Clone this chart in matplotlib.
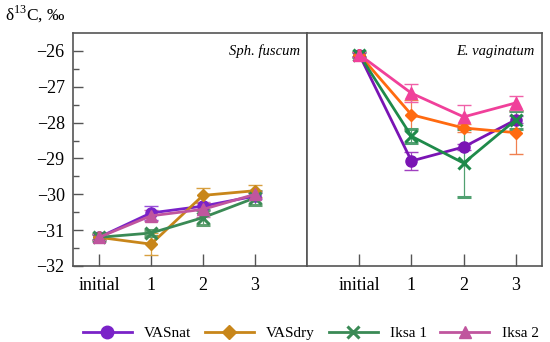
import matplotlib
matplotlib.use("Agg")
import matplotlib.pyplot as plt
from matplotlib.lines import Line2D
import numpy as np

plt.rcParams['font.family'] = ['Liberation Serif', 'DejaVu Serif']
plt.rcParams['mathtext.fontset'] = 'custom'
plt.rcParams['mathtext.rm'] = 'Liberation Serif'

categories = ['initial', '1', '2', '3']
series = ['VASnat', 'VASdry', 'Iksa 1', 'Iksa 2']

# Sph. fuscum
sph_vals = {
    'VASnat': [-31.2, -30.52, -30.33, -30.05],
    'VASdry': [-31.2, -31.39, -30.03, -29.9],
    'Iksa 1': [-31.2, -31.08, -30.65, -30.1],
    'Iksa 2': [-31.2, -30.6, -30.42, -30.0],
}
sph_err = {
    'VASnat': [0.08, 0.2, 0.1, 0.08],
    'VASdry': [0.08, 0.3, 0.2, 0.17],
    'Iksa 1': [0.08, 0.08, 0.22, 0.2],
    'Iksa 2': [0.08, 0.15, 0.2, 0.1],
}
# E. vaginatum
eva_vals = {
    'VASnat': [-26.1, -29.07, -28.68, -27.92],
    'VASdry': [-26.1, -27.78, -28.15, -28.28],
    'Iksa 1': [-26.1, -28.38, -29.13, -27.92],
    'Iksa 2': [-26.1, -27.18, -27.84, -27.45],
}
eva_err = {
    'VASnat': [0.08, 0.25, 0.08, 0.1],
    'VASdry': [0.08, 0.4, 0.1, 0.6],
    'Iksa 1': [0.08, 0.2, 0.95, 0.25],
    'Iksa 2': [0.08, 0.25, 0.32, 0.2],
}

markers = {'VASnat': 'o', 'VASdry': 'D', 'Iksa 1': 'x', 'Iksa 2': '^'}
msizes = {'VASnat': 8, 'VASdry': 6, 'Iksa 1': 8, 'Iksa 2': 8}
colors_left = {'VASnat': '#7a22c8', 'VASdry': '#c8861a', 'Iksa 1': '#3a8a55', 'Iksa 2': '#c0559e'}
err_colors_left = {'VASnat': '#9a50d8', 'VASdry': '#d8a040', 'Iksa 1': '#60a070', 'Iksa 2': '#d070b0'}
colors_right = {'VASnat': '#7a14b4', 'VASdry': '#ff6a10', 'Iksa 1': '#1f8a4a', 'Iksa 2': '#f0409a'}
err_colors_right = {'VASnat': '#a040c0', 'VASdry': '#f08050', 'Iksa 1': '#50a070', 'Iksa 2': '#f060a8'}

fig = plt.figure(figsize=(5.5, 3.42), dpi=100)
axL = fig.add_axes([73/550, 1-266/342, 234/550, 233/342])
axR = fig.add_axes([307/550, 1-266/342, 235/550, 233/342])

x = np.arange(len(categories))
frame_col = '#555555'

def draw(ax, vals, errs, cols, ecols):
    for s in series:
        ax.errorbar(x, vals[s], yerr=errs[s], color=cols[s], ecolor=ecols[s],
                    elinewidth=0.9, capsize=5, capthick=0.9, lw=2,
                    marker=markers[s], ms=msizes[s], mew=2.2 if s == 'Iksa 1' else 1,
                    zorder=3)
    ax.set_xticks(x)
    ax.set_xticklabels(categories, fontsize=13)
    ax.set_ylim(-32, -25.5)
    for sp in ax.spines.values():
        sp.set_color(frame_col)
        sp.set_linewidth(1.2)
    ax.tick_params(axis='x', direction='in', length=9, width=1, color=frame_col, pad=8)

draw(axL, sph_vals, sph_err, colors_left, err_colors_left)
draw(axR, eva_vals, eva_err, colors_right, err_colors_right)

axL.set_xlim(-0.5, 4.0)
axR.set_xlim(-1.0, 3.5)
axL.set_yticks([-32, -31, -30, -29, -28, -27, -26])
axL.set_yticklabels(['\u221232', '\u221231', '\u221230', '\u221229', '\u221228', '\u221227', '\u221226'], fontsize=13)
axL.set_yticks(np.arange(-31.5, -25.5, 1.0), minor=True)
axL.tick_params(axis='y', which='major', direction='in', length=7, width=1, color=frame_col, pad=6)
axL.tick_params(axis='y', which='minor', direction='in', length=4, width=1, color=frame_col)
axR.set_yticks([])

axL.text(0.97, 0.95, 'Sph. fuscum', transform=axL.transAxes, ha='right', va='top',
         fontsize=10.5, style='italic')
axR.text(0.97, 0.95, 'E. vaginatum', transform=axR.transAxes, ha='right', va='top',
         fontsize=10.5, style='italic')

fig.text(5/550, 1-14/342, r'δ$^{13}$C, ‰', fontsize=12.5, ha='left', va='center')

handles = [Line2D([0], [0], color=colors_left[s], lw=2, marker=markers[s], ms=msizes[s] + 1,
                  mew=2.2 if s == 'Iksa 1' else 1) for s in series]
fig.legend(handles, series, loc='center', bbox_to_anchor=(0.565, 1-333/342), ncol=4,
           frameon=False, fontsize=11, handlelength=3.2, columnspacing=0.9, handletextpad=0.8)

fig.savefig('out.png', dpi=100)
